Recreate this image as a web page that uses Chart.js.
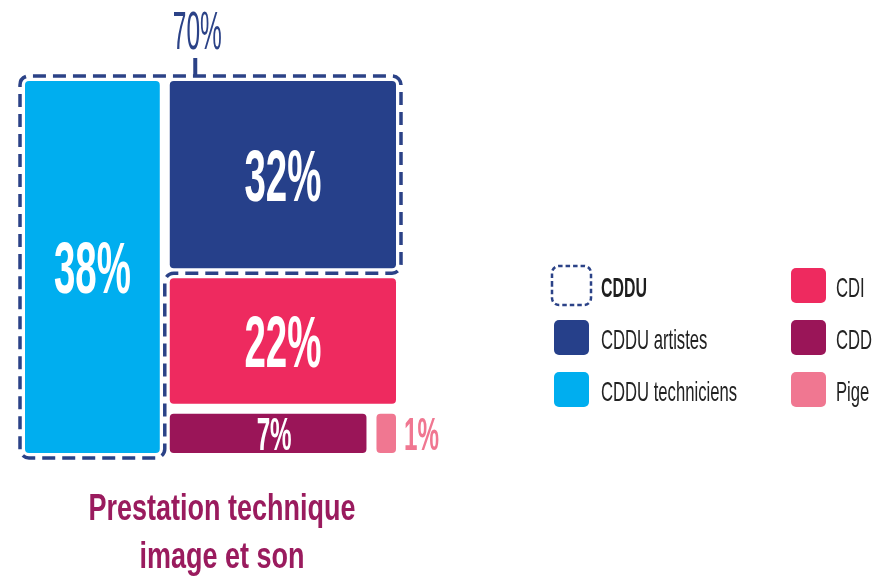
<!DOCTYPE html>
<html><head><meta charset="utf-8">
<script src="https://cdn.jsdelivr.net/npm/chart.js@4/dist/chart.umd.min.js"></script>
<style>html,body{margin:0;padding:0;background:#fff}#wrap{width:874px;height:576px;position:relative}</style>
</head><body><div id="wrap"><canvas id="c" width="874" height="576"></canvas></div>
<script>
// ---- data ----
const categories = ['CDDU artistes', 'CDDU techniciens', 'CDI', 'CDD', 'Pige'];
const values = [32, 38, 22, 7, 1];
const colors = ['#26408A', '#00AEEF', '#EE2A5F', '#9A1558', '#F07791'];
const groupName = 'CDDU';
const groupValue = 70;
const titleLines = ['Prestation technique', 'image et son'];

// ---- treemap layout in data units (x: 0..100 left->right, y: 0..100 top->bottom) ----
const total = values.reduce((a, b) => a + b, 0);
const techW = values[1] / total * 100;
const rest = total - values[1];
const hArt = values[0] / rest * 100;
const hCdi = values[2] / rest * 100;
const cddW = values[3] / (values[3] + values[4]) * (100 - techW);
const rects = [
  {x0: techW, x1: 100, y0: 0, y1: hArt},
  {x0: 0, x1: techW, y0: 0, y1: 100},
  {x0: techW, x1: 100, y0: hArt, y1: hArt + hCdi},
  {x0: techW, x1: techW + cddW, y0: hArt + hCdi, y1: 100},
  {x0: techW + cddW, x1: 100, y0: hArt + hCdi, y1: 100}
];

const FONT = "'Liberation Sans Narrow', 'Liberation Sans', 'DejaVu Sans Condensed', sans-serif";
const NAVY = '#2B4287';

class TreeBarController extends Chart.BarController {
  _calculateBarIndexPixels(index, ruler) {
    const raw = this.getDataset().data[index];
    const xs = this._cachedMeta.iScale;
    const a = xs.getPixelForValue(raw.x0), b = xs.getPixelForValue(raw.x1);
    return {base: Math.min(a, b), head: Math.max(a, b), center: (a + b) / 2, size: Math.abs(b - a)};
  }
}
TreeBarController.id = 'treebar';
Chart.register(TreeBarController);

function drawText(ctx, s, x, y, size, weight, color, align, targetW, ref) {
  ctx.save();
  ctx.font = weight + ' ' + size + 'px ' + FONT;
  let sx = 1;
  if (targetW) sx = targetW / ctx.measureText(ref || s).width;
  ctx.translate(x, y);
  ctx.scale(sx, 1);
  ctx.fillStyle = color;
  ctx.textAlign = align;
  ctx.textBaseline = 'alphabetic';
  ctx.fillText(s, 0, 0);
  ctx.restore();
}

function roundPoly(ctx, pts, r) {
  const n = pts.length;
  ctx.beginPath();
  ctx.moveTo((pts[n - 1][0] + pts[0][0]) / 2, (pts[n - 1][1] + pts[0][1]) / 2);
  for (let i = 0; i < n; i++) {
    const p = pts[i], q = pts[(i + 1) % n];
    ctx.arcTo(p[0], p[1], q[0], q[1], r);
  }
  ctx.closePath();
}

function roundRect(ctx, x, y, w, h, r) {
  roundPoly(ctx, [[x, y], [x + w, y], [x + w, y + h], [x, y + h]], r);
}

const decor = {
  id: 'decor',
  afterDatasetsDraw(chart) {
    const ctx = chart.ctx;
    const X = v => chart.scales.x.getPixelForValue(v);
    const Y = v => chart.scales.y.getPixelForValue(v);
    // group outline (CDDU)
    ctx.save();
    ctx.strokeStyle = NAVY;
    ctx.lineWidth = 3.5;
    ctx.setLineDash([13, 7]);
    roundPoly(ctx, [[X(0), Y(0)], [X(100), Y(0)], [X(100), Y(hArt)], [X(techW), Y(hArt)], [X(techW), Y(100)], [X(0), Y(100)]], 9);
    ctx.stroke();
    ctx.restore();
    // group label + tick
    const gx = X(46);
    ctx.save();
    ctx.strokeStyle = NAVY;
    ctx.lineWidth = 4;
    ctx.beginPath();
    ctx.moveTo(gx, Y(0) - 18);
    ctx.lineTo(gx, Y(0));
    ctx.stroke();
    ctx.restore();
    drawText(ctx, groupValue + '%', gx + 2, Y(0) - 27, 53, 'normal', NAVY, 'center', 49, '70%');

    // value labels
    const meta = chart.getDatasetMeta(0);
    meta.data.forEach((el, i) => {
      const p = el.getProps(['x', 'y', 'base', 'width'], true);
      const w = p.width - 10;
      const h = Math.abs(p.base - p.y) - 10;
      const cy = (p.y + p.base) / 2;
      const s = values[i] + '%';
      if (w < 40) {
        drawText(ctx, s, p.x + p.width / 2 + 3, cy + 16.5, 46, 'bold', colors[i], 'left', 35, '7%');
      } else if (h < 60) {
        drawText(ctx, s, p.x + 6, cy + 16.5, 46, 'bold', '#fff', 'center', 35, '7%');
      } else {
        drawText(ctx, s, p.x, cy + 26, 72, 'bold', '#fff', 'center', 77, '32%');
      }
    });

    // legend
    const items = [{label: groupName, dashed: true}].concat(categories.map((c, i) => ({label: c, color: colors[i]})));
    items.forEach((it, k) => {
      const col = Math.floor(k / 3), row = k % 3;
      const bx = col === 0 ? 571.5 : 808.5;
      const by = 285.5 + row * 52;
      const tx = col === 0 ? 601 : 836;
      if (it.dashed) {
        ctx.save();
        ctx.strokeStyle = NAVY;
        ctx.lineWidth = 2.5;
        ctx.setLineDash([4.5, 3]);
        roundRect(ctx, bx - 19.5, by - 19.5, 39, 39, 7);
        ctx.stroke();
        ctx.restore();
        drawText(ctx, it.label, tx, by + 11.5, 28, 'bold', '#1E1E1E', 'left', 46, 'CDDU');
      } else {
        ctx.save();
        ctx.fillStyle = it.color;
        roundRect(ctx, bx - 17.5, by - 17.5, 35, 35, 5);
        ctx.fill();
        ctx.restore();
        drawText(ctx, it.label, tx, by + 11.5, 28, 'normal', '#222', 'left', 136, 'CDDU techniciens');
      }
    });

    // title
    titleLines.forEach((t, i) => {
      drawText(ctx, t, 222, 520 + i * 48, 37, 'bold', '#9A1B5E', 'center', 267, titleLines[0]);
    });
  }
};

new Chart(document.getElementById('c'), {
  type: 'treebar',
  data: {
    labels: categories,
    datasets: [{
      label: 'Prestation technique image et son',
      data: rects.map((r, i) => ({x: (r.x0 + r.x1) / 2, y: [r.y0, r.y1], x0: r.x0, x1: r.x1, v: values[i]})),
      backgroundColor: colors,
      borderColor: '#ffffff',
      borderWidth: 5,
      borderRadius: 9,
      borderSkipped: false,
      inflateAmount: 0
    }]
  },
  options: {
    responsive: false,
    animation: false,
    events: [],
    layout: {padding: {left: 20, top: 76, right: 473, bottom: 118}},
    scales: {
      x: {type: 'linear', min: 0, max: 100, offset: false, display: false, grid: {offset: false}},
      y: {type: 'linear', min: 0, max: 100, reverse: true, offset: false, display: false}
    },
    plugins: {legend: {display: false}, tooltip: {enabled: false}, title: {display: false}}
  },
  plugins: [decor]
});
</script>
</body></html>
